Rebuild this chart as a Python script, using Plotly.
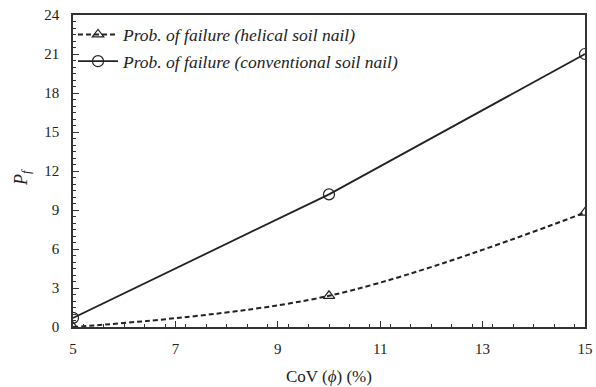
import plotly.graph_objects as go

cov = [5, 10, 15]
pf_helical = [0.0, 2.4, 8.8]
pf_conventional = [0.7, 10.2, 21.0]
x_ticks = [5, 7, 9, 11, 13, 15]
y_ticks = [0, 3, 6, 9, 12, 15, 18, 21, 24]

font_family = "Liberation Serif, Times New Roman, serif"

fig = go.Figure()
fig.add_trace(go.Scatter(
    x=cov, y=pf_helical, mode="lines+markers",
    name="Prob. of failure (helical soil nail)",
    legendgroup="a",
    line=dict(color="#222", width=2, dash="5px,3px", shape="spline", smoothing=1.0),
    marker=dict(symbol="triangle-up-open", size=10, color="#222", line=dict(width=1.2)),
))
fig.add_trace(go.Scatter(
    x=cov, y=pf_conventional, mode="lines+markers",
    name="Prob. of failure (conventional soil nail)",
    legendgroup="b",
    line=dict(color="#222", width=1.8),
    marker=dict(symbol="circle-open", size=11, color="#222", line=dict(width=1.2)),
))

axis_common = dict(
    showline=True, linecolor="#333", linewidth=1.5, mirror=True,
    ticks="inside", ticklen=6, tickcolor="#333", tickwidth=1.2,
    showgrid=False, zeroline=False, automargin=False,
    ticklabeloverflow="allow",
    tickfont=dict(family=font_family, size=15, color="#222"),
)

fig.update_layout(
    template="none",
    width=596, height=387,
    margin=dict(l=73, r=11, t=15, b=60),
    paper_bgcolor="white", plot_bgcolor="white",
    font=dict(family=font_family, color="#222"),
    showlegend=True,
    legend=dict(
        x=0.0, y=0.995, xanchor="left", yanchor="top",
        font=dict(family=font_family, size=17.5, color="#222", style="italic"),
        bgcolor="rgba(0,0,0,0)", borderwidth=0, itemwidth=40, tracegroupgap=1,
    ),
    xaxis=dict(
        range=[5, 15], tickvals=x_ticks, ticklabelstandoff=7,
        minor=dict(dtick=0.4, ticks="inside", ticklen=3, tickcolor="#333"),
        **axis_common,
    ),
    yaxis=dict(
        range=[0, 24], tickvals=y_ticks, ticklabelstandoff=9,
        minor=dict(dtick=0.5, ticks="inside", ticklen=3, tickcolor="#333"),
        **axis_common,
    ),
    annotations=[
        dict(text="CoV (<i>ϕ</i>) (%)", xref="paper", yref="paper",
             x=0.5, y=-0.16, xanchor="center", yanchor="middle",
             showarrow=False, font=dict(family=font_family, size=17, color="#222")),
        dict(text="<i>P<sub>f</sub></i>", xref="paper", yref="paper",
             x=-0.1, y=0.48, xanchor="center", yanchor="middle", textangle=-90,
             showarrow=False, font=dict(family=font_family, size=18, color="#222")),
    ],
)

fig.write_html(
    "out.html",
    config={"displayModeBar": False},
    post_script="document.body.style.margin='0';document.body.style.overflow='hidden';",
)
